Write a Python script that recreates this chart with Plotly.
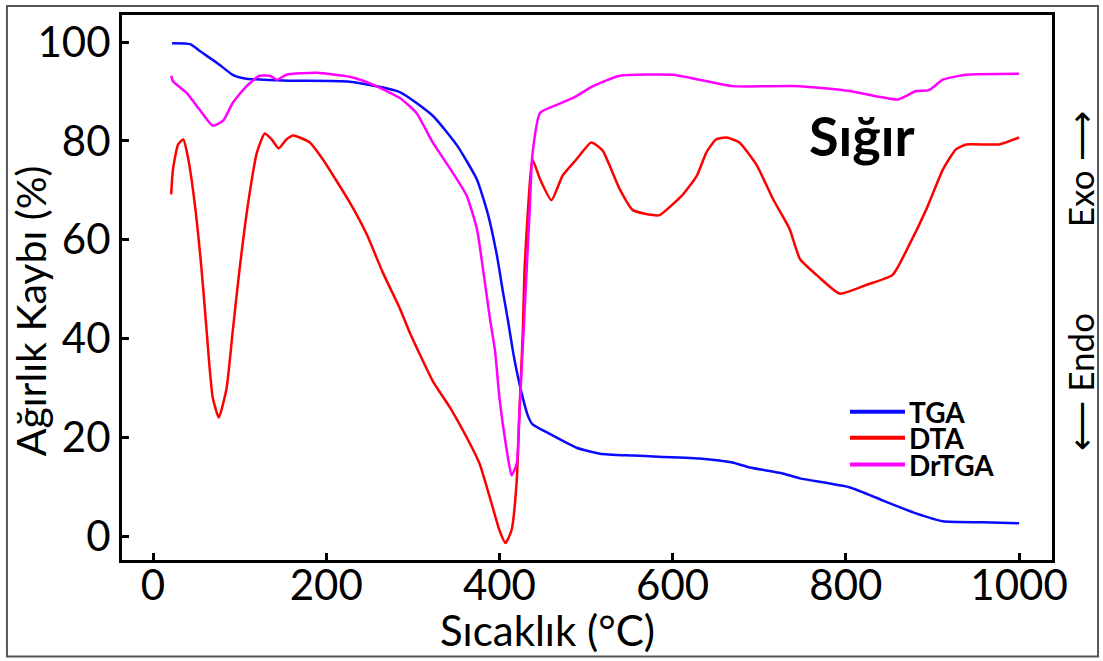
import plotly.graph_objects as go

# ---------------- data ----------------
tga_x = [22, 43, 54, 74, 92, 108, 158, 227, 285, 323, 351, 374, 387, 397, 404, 410,
         416, 421, 427, 433, 438, 458, 489, 516, 554, 631, 669, 689, 727, 747, 804, 843,
         881, 912, 958, 1000]
tga_y = [99.8, 99.6, 98.2, 95.8, 93.4, 92.6, 92.2, 92.0, 89.9, 85.1, 79.1, 72.2, 65.0,
         56.9, 49.5, 43.5, 37.0, 32.5, 28.0, 24.3, 22.7, 20.7, 17.9, 16.7, 16.3, 15.7,
         14.9, 13.9, 12.7, 11.7, 9.9, 7.2, 4.6, 3.0, 2.8, 2.6]

dta_x = [21, 23, 29, 35, 40, 48, 56, 62, 65, 69, 76, 85, 92, 100, 110, 120, 129, 137,
         145, 154, 162, 181, 196, 227, 247, 265, 285, 296, 323, 343, 366, 377, 389, 400,
         407, 414, 420, 423, 427, 429, 433, 438, 447, 460, 473, 489, 506, 519, 539, 554,
         577, 585, 612, 628, 639, 650, 662, 677, 697, 716, 735, 747, 766, 793, 824, 854,
         873, 893, 912, 927, 939, 977, 1000]
dta_y = [69.2, 74.2, 79.3, 80.3, 77.0, 67.6, 54.1, 41.4, 34.8, 28.0, 24.0, 30.0, 41.4,
         54.1, 67.6, 77.7, 81.5, 80.3, 78.5, 80.3, 81.1, 79.7, 76.3, 67.6, 61.0, 53.5,
         46.1, 41.4, 31.4, 26.0, 18.7, 14.7, 7.8, 1.2, -1.4, 1.2, 11.3, 24.7, 41.4, 54.1,
         66.2, 76.3, 72.2, 68.0, 73.0, 76.3, 79.7, 78.1, 70.2, 66.0, 65.0, 65.0, 69.2,
         73.0, 77.7, 80.3, 80.7, 79.7, 75.1, 68.2, 62.2, 56.1, 52.9, 49.1, 50.9, 52.9,
         58.9, 66.2, 74.2, 78.3, 79.3, 79.3, 80.7]

drtga_x = [21, 23, 39, 54, 69, 81, 92, 108, 123, 135, 143, 154, 189, 227, 254, 285, 304,
           323, 346, 362, 374, 381, 389, 395, 400, 408, 414, 420, 423, 435, 438, 447, 466,
           485, 508, 539, 600, 631, 669, 746, 804, 860, 881, 896, 912, 939, 1000]
drtga_y = [93.2, 92.1, 89.7, 86.3, 83.1, 84.1, 87.7, 91.1, 93.2, 93.2, 92.4, 93.4, 93.8,
           93.0, 91.4, 88.7, 85.7, 79.7, 73.6, 69.0, 62.2, 54.1, 44.1, 37.4, 28.0, 17.9,
           12.3, 14.7, 24.7, 66.2, 77.1, 85.7, 87.3, 88.7, 91.1, 93.2, 93.4, 92.4, 91.1,
           91.1, 90.1, 88.4, 90.1, 90.3, 92.4, 93.4, 93.6]

series_names = ["TGA", "DTA", "DrTGA"]
series_colors = ["#0a0aff", "#ff0000", "#ff00ff"]
x_ticks = [0, 200, 400, 600, 800, 1000]
y_ticks = [0, 20, 40, 60, 80, 100]

FONT = "Lato"

fig = go.Figure()
for name, xs, ys, col in zip(series_names, [tga_x, dta_x, drtga_x],
                             [tga_y, dta_y, drtga_y], series_colors):
    fig.add_trace(go.Scatter(x=xs, y=ys, mode="lines", name=name, showlegend=False,
                             line=dict(color=col, width=2.5, shape="spline", smoothing=0.5)))

axis_common = dict(showline=True, linecolor="black", linewidth=3, mirror=True,
                   ticks="inside", ticklen=7, tickwidth=3, tickcolor="black",
                   showgrid=False, zeroline=False,
                   tickfont=dict(family=FONT, size=42, color="black"))

fig.update_xaxes(range=[-35.8, 1038], tickvals=x_ticks, ticklabelstandoff=-13, **axis_common)
fig.update_yaxes(range=[-4.83, 105.5], tickvals=y_ticks, ticklabelstandoff=0, **axis_common)

annotations = [
    dict(text="Sıcaklık (°C)", x=0.458, y=-0.128, xref="paper", yref="paper",
         showarrow=False, font=dict(family=FONT, size=42, color="black"),
         xanchor="center", yanchor="middle"),
    dict(text="Ağırlık Kaybı (%)", x=-0.099, y=0.458, xref="paper", yref="paper",
         showarrow=False, textangle=-90, font=dict(family=FONT, size=41, color="black"),
         xanchor="center", yanchor="middle"),
    dict(text="<b>Sığır</b>", x=0.796, y=0.779, xref="paper", yref="paper",
         showarrow=False, font=dict(family=FONT, size=54, color="black"),
         xanchor="center", yanchor="middle"),
    dict(text="Exo ⟶", x=1.030, y=0.717, xref="paper", yref="paper",
         showarrow=False, textangle=-90, font=dict(family=FONT, size=35, color="black"),
         xanchor="center", yanchor="middle"),
    dict(text="⟵ Endo", x=1.030, y=0.327, xref="paper", yref="paper",
         showarrow=False, textangle=-90, font=dict(family=FONT, size=35, color="black"),
         xanchor="center", yanchor="middle"),
]

# manual legend (line swatches + labels)
leg_y = [0.2719, 0.2245, 0.1752]
shapes = []
for name, col, yy in zip(series_names, series_colors, leg_y):
    shapes.append(dict(type="line", xref="paper", yref="paper", x0=0.7828, x1=0.8419,
                       y0=yy, y1=yy, line=dict(color=col, width=4)))
    annotations.append(dict(text="<b>%s</b>" % name, x=0.8441, y=yy, xref="paper",
                            yref="paper", showarrow=False, xanchor="left", yanchor="middle",
                            font=dict(family=FONT, size=28, color="black")))

# outer image border
shapes.append(dict(type="rect", xref="paper", yref="paper", x0=-0.1237, x1=1.0495,
                   y0=-0.177, y1=1.0164, line=dict(color="#555555", width=2)))

fig.update_layout(width=1103, height=661, margin=dict(l=122, r=51, t=12, b=101),
                  paper_bgcolor="white", plot_bgcolor="white",
                  annotations=annotations, shapes=shapes, showlegend=False)

fig.write_html("out.html", config={"displayModeBar": False},
               post_script="document.body.style.margin='0';document.body.style.overflow='hidden';")
